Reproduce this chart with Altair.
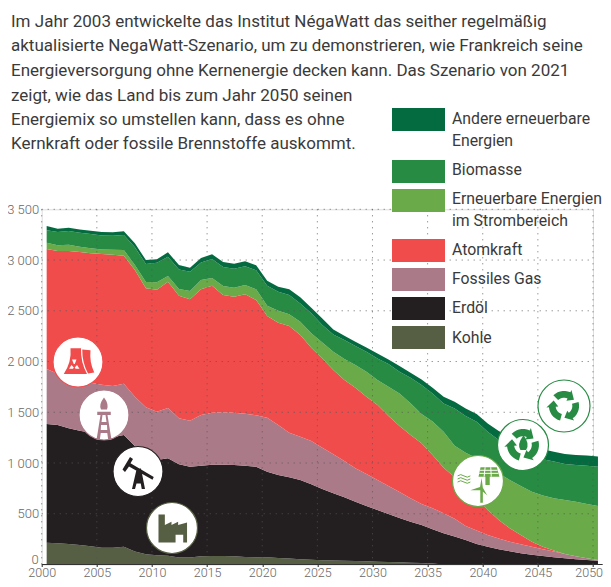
import math
import altair as alt
import pandas as pd

years = list(range(2000, 2051))

# Upper edge of each band (cumulative, in the chart's units)
top_andere = [3335,3309,3319,3302,3289,3276,3273,3283,3165,3000,3007,3076,2951,2925,3020,3056,2981,2964,2987,2948,2797,2738,2711,2633,2530,
              2425,2316,2254,2195,2139,2080,2021,1955,1890,1824,1742,1653,1604,1538,1482,1390,1315,1259,1193,1160,1135,1112,1089,1079,1073,1063]
top_biomasse = [3293,3276,3286,3270,3256,3243,3240,3247,3125,2961,2974,3033,2908,2885,2977,3010,2931,2915,2938,2899,2747,2688,2655,2573,2475,
                2359,2267,2211,2152,2096,2031,1975,1900,1840,1768,1686,1587,1538,1463,1407,1308,1226,1177,1111,1062,1037,1014,991,981,974,964]
top_strom = [3171,3145,3151,3132,3115,3105,3102,3099,2951,2784,2780,2843,2715,2695,2803,2823,2744,2728,2754,2711,2550,2501,2465,2393,2278,
             2188,2096,2024,1965,1900,1817,1752,1686,1590,1483,1408,1309,1170,1102,1046,971,899,833,774,718,679,652,636,619,596,577]
top_atom = [3109,3089,3089,3079,3066,3059,3053,3043,2902,2721,2708,2787,2649,2613,2711,2747,2656,2639,2662,2606,2449,2383,2350,2261,2135,
            2031,1916,1817,1742,1653,1572,1463,1365,1276,1194,1079,954,859,760,650,537,439,357,291,225,176,137,104,81,61,45]
top_gas = [1927,1880,1840,1810,1790,1770,1759,1782,1654,1549,1506,1542,1440,1417,1473,1496,1500,1496,1486,1470,1447,1375,1299,1260,1217,
           1151,1086,1020,948,892,833,774,715,652,596,554,504,450,380,334,291,255,225,199,176,150,127,104,81,61,45]
top_oel = [1385,1375,1342,1319,1299,1260,1253,1276,1168,1079,1030,1046,987,964,974,984,984,981,974,964,915,882,859,833,790,
           744,701,662,619,577,537,498,458,422,389,347,307,275,242,202,176,150,130,110,97,84,71,61,51,45,38]
top_kohle = [215,209,202,192,179,166,166,176,127,100,91,87,68,68,81,84,84,81,74,71,71,64,58,51,48,
             42,40,37,34,31,28,25,22,18,14,10,0,0,0,0,0,0,0,0,0,0,0,0,0,0,0]

series_names = ["Kohle", "Erdöl", "Fossiles Gas", "Atomkraft",
                "Erneuerbare Energien im Strombereich", "Biomasse", "Andere erneuerbare Energien"]
series_tops = [top_kohle, top_oel, top_gas, top_atom, top_strom, top_biomasse, top_andere]
series_colors = ["#565f44", "#231f20", "#ab7a88", "#f14c4c", "#6aaa48", "#278b43", "#036b3f"]

x_ticks = list(range(2000, 2051, 5))
y_ticks = list(range(0, 3501, 500))

intro_lines = [
    "Im Jahr 2003 entwickelte das Institut NégaWatt das seither regelmäßig",
    "aktualisierte NegaWatt-Szenario, um zu demonstrieren, wie Frankreich seine",
    "Energieversorgung ohne Kernenergie decken kann. Das Szenario von 2021",
    "zeigt, wie das Land bis zum Jahr 2050 seinen",
    "Energiemix so umstellen kann, dass es ohne",
    "Kernkraft oder fossile Brennstoffe auskommt.",
]
intro_y = [22, 46, 71, 96, 120, 144]

legend_rects = [("#036b3f", 108), ("#278b43", 160), ("#6aaa48", 189), ("#f14c4c", 239),
                ("#ab7a88", 268), ("#231f20", 297), ("#565f44", 326)]
legend_text = [("Andere erneuerbare", 119), ("Energien", 141), ("Biomasse", 170),
               ("Erneuerbare Energien", 199), ("im Strombereich", 221), ("Atomkraft", 250),
               ("Fossiles Gas", 279), ("Erdöl", 308), ("Kohle", 338)]

# page geometry
PX0, PY0 = 41.7, 209.3     # page position of 2000 / 3500
W, H = 551.3, 355.2
X_OFFSET = 0.45            # samples sit slightly right of the year ticks

rows = []
for i, (name, tops, color) in enumerate(zip(series_names, series_tops, series_colors)):
    below = series_tops[i - 1] if i else [0] * len(years)
    for yr, t, b in zip(years, tops, below):
        rows.append({"x": yr + X_OFFSET, "name": name, "ord": i, "value": t - b})
df = pd.DataFrame(rows)

xs = alt.Scale(domain=[2000, 2050], nice=False)
ys = alt.Scale(domain=[0, 3500], nice=False)

areas = alt.Chart(df).mark_area(interpolate="linear", strokeWidth=0).encode(
    x=alt.X("x:Q", scale=xs, axis=alt.Axis(values=x_ticks, title=None, grid=False, domain=False,
                                            tickColor="#222", tickSize=2, labelFont="Roboto", labelFontSize=12.5,
                                            labelColor="#666", labelPadding=0, labelFontWeight=300,
                                            labelExpr="datum.value == 2050 ? '' : format(datum.value, 'd')",
                                            labelOverlap=False, labelBound=False, labelFlush=False)),
    y=alt.Y("value:Q", stack="zero", scale=ys,
            axis=alt.Axis(values=y_ticks, title=None, grid=False, domain=False, ticks=False, labelFont="Roboto",
                          labelFontSize=13, labelColor="#666", labelPadding=3, labelFontWeight=300,
                          labelExpr="datum.value == 0 ? '' : replace(format(datum.value, ','), ',', ' ')",
                          labelOverlap=False)),
    color=alt.Color("name:N", scale=alt.Scale(domain=series_names, range=series_colors), legend=None),
    order=alt.Order("ord:Q"),
)

# the last year label stays inside the page's right edge, the zero clears the year labels
last_label = alt.Chart(pd.DataFrame({"x": [x_ticks[-1]], "t": [str(x_ticks[-1])]})).mark_text(
    align="right", baseline="top", dx=10, font="Roboto", fontSize=12.5, fontWeight=300, color="#666666"
).encode(x=alt.X("x:Q", scale=xs), y=alt.value(H + 2), text="t:N")
zero_label = alt.Chart(pd.DataFrame({"y": [y_ticks[0]], "t": [str(y_ticks[0])]})).mark_text(
    align="right", baseline="middle", dx=-3, dy=-5, font="Roboto", fontSize=13, fontWeight=300, color="#666666"
).encode(x=alt.value(0), y=alt.Y("y:Q", scale=ys), text="t:N")

grid_style = dict(color="#555555", strokeDash=[1, 5], strokeWidth=1, opacity=0.85)
vgrid = alt.Chart(pd.DataFrame({"x": x_ticks})).mark_rule(**grid_style).encode(
    x=alt.X("x:Q", scale=xs), y=alt.value(0), y2=alt.value(H))
hgrid = alt.Chart(pd.DataFrame({"y": y_ticks[1:]})).mark_rule(**grid_style).encode(
    y=alt.Y("y:Q", scale=ys), x=alt.value(0), x2=alt.value(W))
baseline = alt.Chart(pd.DataFrame({"y": [0]})).mark_rule(color="#333333", strokeWidth=1).encode(
    y=alt.Y("y:Q", scale=ys), x=alt.value(0), x2=alt.value(561))

# ---------- icons ----------
def poly(points):
    return "M" + " L".join(f"{px:.3f},{py:.3f}" for px, py in points) + " Z"

def arrows(scale=1.0, inner=0.32, outer=0.58):
    parts = []
    for base in (-90, 30, 150):
        pts = []
        for k in range(8):
            t = math.radians(base - 45 + k * 10)
            pts.append((outer * math.cos(t), outer * math.sin(t)))
        t_end = math.radians(base + 25)
        mid = (inner + outer) / 2
        pts.append(((outer + 0.1) * math.cos(t_end), (outer + 0.1) * math.sin(t_end)))
        t_tip = math.radians(base + 58)
        pts.append((mid * math.cos(t_tip), mid * math.sin(t_tip)))
        pts.append(((inner - 0.1) * math.cos(t_end), (inner - 0.1) * math.sin(t_end)))
        for k in range(7, -1, -1):
            t = math.radians(base - 45 + k * 10)
            pts.append((inner * math.cos(t), inner * math.sin(t)))
        parts.append(poly([(a * scale, b * scale) for a, b in pts]))
    return " ".join(parts)

towers = ("M-0.30,-0.55 L0.12,-0.55 Q0.10,0 0.36,0.48 L-0.57,0.48 Q-0.25,0 -0.30,-0.55 Z "
          "M0.17,-0.50 L0.50,-0.47 Q0.45,0 0.65,0.42 L0.40,0.46 Q0.16,0 0.17,-0.50 Z")
trefoil = ("M-0.24,-0.10 L-0.06,-0.10 L-0.13,0.08 L-0.17,0.08 Z "
           "M-0.36,0.27 L-0.26,0.12 L-0.17,0.22 L-0.20,0.27 Z "
           "M0.06,0.27 L-0.04,0.12 L-0.13,0.22 L-0.10,0.27 Z")
derrick = ("M-0.27,-0.13 L0.27,-0.13 L0.27,0 L0.14,0 L0.30,1.0 L0.17,1.0 L0.13,0.72 L-0.13,0.72 L-0.17,1.0 L-0.30,1.0 L-0.14,0 L-0.27,0 Z "
           "M-0.06,0 L-0.10,0.28 L0.10,0.28 L0.06,0 Z M-0.12,0.40 L-0.13,0.60 L0.13,0.60 L0.12,0.40 Z "
           "M0,-0.70 Q0.20,-0.45 0.12,-0.22 L-0.12,-0.22 Q-0.22,-0.42 0,-0.70 Z")
pumpjack = ("M-0.62,-0.08 L-0.32,-0.58 L-0.20,-0.50 L-0.30,-0.33 L0.63,0.22 L0.58,0.33 L-0.36,-0.20 L-0.52,0.02 Z "
            "M-0.05,-0.12 L0.12,-0.12 L0.28,0.70 L0.15,0.70 L0.11,0.48 L-0.06,0.48 L-0.12,0.70 L-0.24,0.70 Z")
factory = ("M-0.53,-0.53 L-0.28,-0.53 L-0.28,-0.12 L-0.02,-0.25 L-0.02,-0.12 L0.24,-0.25 L0.24,-0.12 L0.59,-0.22 L0.59,0.57 "
           "L0.44,0.57 L0.44,0.26 L0.14,0.26 L0.14,0.57 L-0.53,0.57 Z")
flame = "M0.02,-0.38 Q0.28,-0.05 0.12,0.2 L-0.1,0.2 Q-0.25,-0.02 0.02,-0.38 Z"
panel = "M0.10,-0.54 L0.74,-0.54 L0.84,-0.17 L0.46,-0.17 L0.46,0.16 L0.29,0.16 L0.29,-0.17 L0.02,-0.17 Z"
panel_cells = "M0.08,-0.42 L0.77,-0.42 M0.05,-0.30 L0.80,-0.30 M0.28,-0.54 L0.24,-0.17 M0.50,-0.54 L0.52,-0.17"
turbine = ("M0.09,0.36 L0.19,0.36 L0.19,0.85 L0.09,0.85 Z "
           "M0.14,-0.12 L0.19,0.26 L0.36,0.56 L0.12,0.36 L-0.30,0.36 L0.08,0.24 Z")
waves = ("M-0.80,-0.20 Q-0.68,-0.30 -0.55,-0.20 T-0.30,-0.20 "
         "M-0.80,-0.08 Q-0.68,-0.18 -0.55,-0.08 T-0.30,-0.08 "
         "M-0.80,0.04 Q-0.68,-0.06 -0.55,0.04 T-0.30,0.04")

icon_defs = [
    (78, 362, 25, "#f14c4c", [(towers, "#f14c4c"), (trefoil, "#ffffff")], []),
    (104, 415, 25, "#ab7a88", [(derrick, "#ab7a88")], []),
    (138, 471.5, 25, "#231f20", [(pumpjack, "#231f20")], []),
    (172, 528, 25.5, "#565f44", [(factory, "#565f44")], []),
    (478, 481, 25.5, "#6aaa48", [(panel, "#6aaa48"), (turbine, "#6aaa48")],
     [(waves, "#6aaa48"), (panel_cells, "#ffffff")]),
    (523, 445, 25.5, "#278b43", [(arrows(1.08), "#278b43"), (flame, "#278b43")], []),
    (564, 406, 26, "#278b43", [(arrows(1.0), "#278b43")], []),
]

def to_data(px, py):
    return 2000 + (px - PX0) / W * 50, (PY0 + H - py) / H * 3500

icon_layers = []
for px, py, r, ring, fills, strokes in icon_defs:
    ix, iy = to_data(px, py)
    d = pd.DataFrame({"x": [ix], "y": [iy]})
    enc = dict(x=alt.X("x:Q", scale=xs), y=alt.Y("y:Q", scale=ys))
    icon_layers.append(alt.Chart(d).mark_point(shape="circle", filled=True, fill="#ffffff", stroke=ring,
                                               strokeWidth=1.2, opacity=1, size=4 * r * r).encode(**enc))
    for path, col in fills:
        icon_layers.append(alt.Chart(d).mark_point(shape=path, filled=True, fill=col, strokeWidth=0, opacity=1,
                                                   size=4 * r * r).encode(**enc))
    for path, col in strokes:
        icon_layers.append(alt.Chart(d).mark_point(shape=path, filled=False, stroke=col, strokeWidth=1, opacity=1,
                                                   size=4 * r * r).encode(**enc))

# ---------- intro text and legend ----------
intro = alt.Chart(pd.DataFrame({"t": intro_lines, "py": [p - PY0 for p in intro_y]})).mark_text(
    align="left", baseline="middle", font="Roboto", fontSize=17, color="#3a3a3a"
).encode(text="t:N", y=alt.Y("py:Q", scale=None), x=alt.value(11 - PX0))

swatches = alt.Chart(pd.DataFrame({
    "c": [c for c, _ in legend_rects],
    "y1": [p - PY0 for _, p in legend_rects],
    "y2": [p + 23 - PY0 for _, p in legend_rects],
})).mark_rect(strokeWidth=0).encode(
    y=alt.Y("y1:Q", scale=None), y2="y2:Q", x=alt.value(392 - PX0), x2=alt.value(445 - PX0),
    color=alt.Color("c:N", scale=None))

legend_labels = alt.Chart(pd.DataFrame({
    "t": [t for t, _ in legend_text], "py": [p - PY0 for _, p in legend_text],
})).mark_text(align="left", baseline="middle", font="Roboto", fontSize=15.8, color="#3a3a3a").encode(
    text="t:N", y=alt.Y("py:Q", scale=None), x=alt.value(452 - PX0))

chart = alt.layer(areas, last_label, zero_label, vgrid, hgrid, baseline, *icon_layers, swatches, intro, legend_labels).resolve_scale(
    color="independent"
).properties(
    width=W, height=H,
    padding={"left": PX0 - 8, "top": PY0 - 8, "right": 10, "bottom": 14.5},
    autosize=alt.AutoSizeParams(type="none"),
).configure_view(stroke=None).configure(background="#ffffff")

chart.save("out.html", embed_options={"renderer": "svg", "actions": False})
